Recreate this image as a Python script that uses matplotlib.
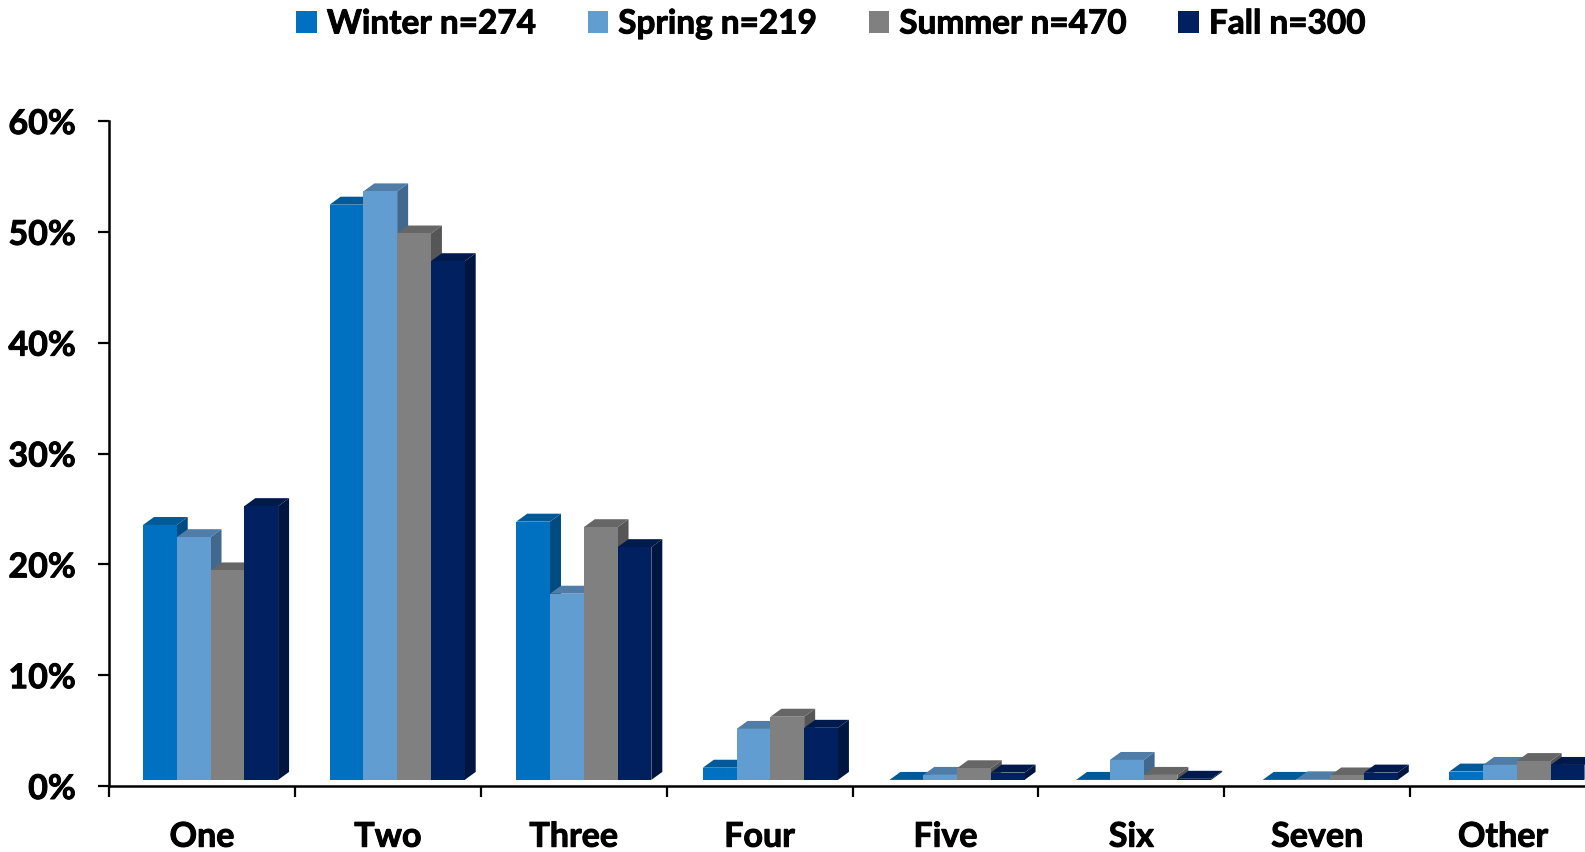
import matplotlib
matplotlib.use("Agg")
import matplotlib.pyplot as plt
import matplotlib.patheffects as pe
from matplotlib.patches import Patch, Polygon

categories = ["One", "Two", "Three", "Four", "Five", "Six", "Seven", "Other"]
series_names = ["Winter n=274", "Spring n=219", "Summer n=470", "Fall n=300"]

winter = [23.0, 51.9, 23.3, 1.1, 0.0, 0.0, 0.0, 0.75]
spring = [21.9, 53.1, 16.8, 4.6, 0.45, 1.8, 0.05, 1.35]
summer = [18.9, 49.3, 22.8, 5.7, 1.05, 0.45, 0.4, 1.7]
fall = [24.7, 46.8, 21.0, 4.7, 0.66, 0.1, 0.66, 1.35]

front_colors = ["#0070C0", "#629DD1", "#808080", "#002060"]
top_colors = ["#005A9A", "#4F7DA7", "#666666", "#001A4D"]
side_colors = ["#004C82", "#42698D", "#565656", "#001540"]

W, H = 1585, 853
plt.rcParams["font.family"] = ["Lato", "DejaVu Sans"]
plt.rcParams["font.weight"] = "bold"

fig = plt.figure(figsize=(W / 100, H / 100), dpi=100)
# axes runs past the right edge, the last group is cut off in the original
ax = fig.add_axes([109 / W, 1 - 787 / H, (1596 - 109) / W, (787 - 122) / H])
ax.set_xlim(0, 8)
ax.set_ylim(0, 60)

bar_w = 33.8 / 186
floor = 0.55  # bars stand a little above the axis line
dx = 11 / 186
dy = 0.72
group_step = 1.004  # groups drift slightly against the ticks in the original

for i, values in enumerate([winter, spring, summer, fall]):
    for j, v in enumerate(values):
        x0 = j * group_step + 34 / 186 + i * bar_w
        x1 = x0 + bar_w
        y1 = floor + v
        ax.add_patch(Polygon([(x1, floor), (x1 + dx, floor + dy), (x1 + dx, y1 + dy), (x1, y1)],
                             facecolor=side_colors[i], edgecolor="none", clip_on=False, zorder=2 + i))
        ax.add_patch(Polygon([(x0, y1), (x0 + dx, y1 + dy), (x1 + dx, y1 + dy), (x1, y1)],
                             facecolor=top_colors[i], edgecolor="none", clip_on=False, zorder=2 + i))
        ax.bar(x0, v, bar_w, bottom=floor, align="edge", color=front_colors[i],
               clip_on=False, zorder=2 + i)

for s in ["top", "right"]:
    ax.spines[s].set_visible(False)
for s in ["left", "bottom"]:
    ax.spines[s].set_linewidth(1.8)
ax.set_yticks(range(0, 61, 10))
ax.set_yticklabels([f"{t}%" for t in range(0, 61, 10)], fontsize=24.5)
ax.set_xticks(range(0, 8))
ax.set_xticks([k + 0.5 for k in range(8)], minor=True)
ax.set_xticklabels([])
ax.set_xticklabels(categories, minor=True, fontsize=24.5)
ax.tick_params(axis="x", which="major", length=8, width=1.6)
ax.tick_params(axis="x", which="minor", length=0, pad=25)
ax.tick_params(axis="y", length=8, width=1.6, pad=16)

handles = [Patch(facecolor=c, edgecolor="none") for c in front_colors]
leg = fig.legend(handles, series_names, loc="center", bbox_to_anchor=(831 / W, 1 - 25 / H), ncol=4,
                 frameon=False, fontsize=24, handlelength=0.62, handleheight=0.62,
                 handletextpad=0.3, columnspacing=1.55)

# Lato bold is a bit lighter than the original face
thicker = [pe.withStroke(linewidth=0.7, foreground="black")]
for t in ax.get_yticklabels() + ax.get_xticklabels(minor=True) + leg.get_texts():
    t.set_path_effects(thicker)

fig.savefig("out.png", dpi=100)
